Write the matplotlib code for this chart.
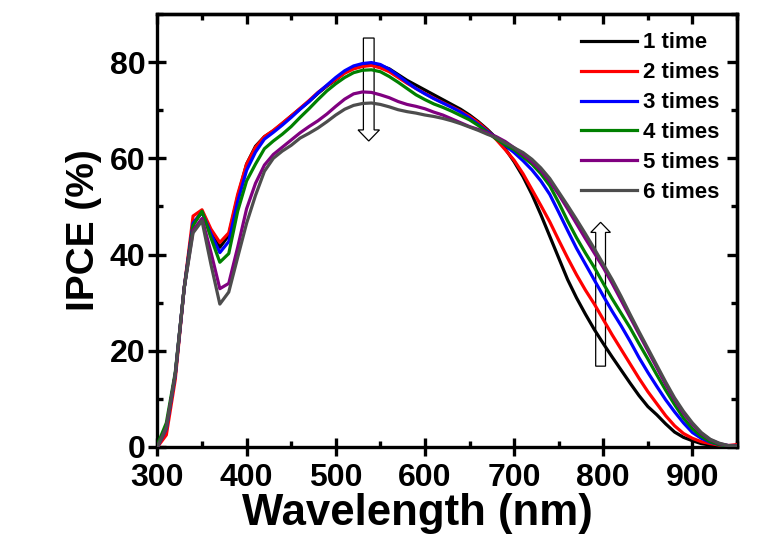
import matplotlib
matplotlib.use("Agg")
import matplotlib.pyplot as plt
from matplotlib.patches import FancyArrow
from matplotlib.ticker import MultipleLocator

plt.rcParams['font.family'] = ['Liberation Sans', 'DejaVu Sans']
plt.rcParams['font.weight'] = 'bold'

# IPCE spectra, 300-950 nm every 10 nm
wavelength = list(range(300, 960, 10))

ipce_1 = [0, 4, 15, 33, 46.5, 48.8, 44.5, 41.5, 44, 52,
          58.8, 62.5, 64.5, 65.7, 67.2, 68.8, 70.3, 71.8, 73.5, 75,
          76.3, 77.8, 78.7, 79.2, 79.5, 79.3, 78.6, 77.4, 76.2, 75.2,
          74.2, 73.2, 72.2, 71.2, 70.2, 69, 67.6, 66, 64.2, 62,
          59.3, 56.2, 52.5, 48.3, 43.8, 39.3, 34.8, 31, 27.6, 24.4,
          21.5, 18.7, 16, 13.3, 10.7, 8.4, 6.7, 4.8, 3.1, 2,
          1.3, 0.7, 0.4, 0.2, 0.1, 0.1]
ipce_2 = [0, 2.5, 14, 33, 48, 49.3, 45.3, 42.5, 44.5, 52.5,
          58.8, 62.3, 64.5, 65.8, 67.3, 68.8, 70.4, 72, 73.7, 75.1,
          76.4, 77.7, 78.6, 79.1, 79.3, 78.8, 78, 76.8, 75.6, 74.5,
          73.5, 72.5, 71.6, 70.7, 69.8, 68.7, 67.4, 65.8, 63.9, 61.8,
          59.6, 56.8, 53.5, 50.2, 46.8, 43, 39.3, 35.8, 32.6, 29.7,
          26.5, 23.3, 20.3, 17.3, 14.3, 11.5, 9, 6.5, 4.4, 2.8,
          1.8, 1.1, 0.7, 0.4, 0.3, 0.5]
ipce_3 = [0, 3.8, 15, 33, 46.5, 48.8, 44.3, 40.4, 42.7, 51,
          57.5, 61.3, 64, 65.4, 66.9, 68.5, 70.2, 71.8, 73.6, 75.2,
          76.8, 78.2, 79.2, 79.7, 79.9, 79.5, 78.5, 77.2, 75.8, 74.5,
          73.4, 72.4, 71.5, 70.6, 69.6, 68.4, 67, 65.6, 64.2, 62.7,
          61.2, 59.5, 57.6, 55.3, 52.5, 48.8, 45, 41.3, 38, 34.7,
          31.4, 28.2, 25.2, 22, 18.6, 15.5, 12.6, 9.8, 7.3, 5,
          3, 1.8, 1, 0.5, 0.3, 0.3]
ipce_4 = [0.5, 5, 15.5, 33, 46, 49, 43.5, 38.4, 40.2, 49,
          55.3, 58.8, 62, 63.6, 65, 66.6, 68.5, 70.3, 72.2, 74,
          75.5, 76.8, 77.8, 78.3, 78.4, 78, 77, 75.8, 74.5, 73.2,
          72.2, 71.3, 70.6, 69.8, 68.9, 68, 66.8, 65.4, 64, 62.8,
          61.8, 60.3, 58.8, 56.8, 54.3, 50.8, 47, 43.5, 40.3, 37.3,
          34, 30.8, 27.8, 24.8, 21.5, 18.3, 15, 11.8, 8.8, 6,
          3.8, 2.2, 1.1, 0.5, 0.2, 0.2]
ipce_5 = [0, 4, 15, 33, 45, 47.5, 40.5, 32.9, 34, 41.5,
          49.5, 54.8, 58.6, 60.8, 62.3, 63.8, 65.3, 66.6, 67.8, 69.2,
          70.8, 72.3, 73.4, 73.8, 73.7, 73.2, 72.6, 71.8, 71.2, 70.8,
          70.3, 69.6, 69, 68.2, 67.4, 66.6, 66, 65.3, 64.5, 63.5,
          62.2, 60.8, 59.3, 57.5, 55.2, 52.5, 49.5, 46.4, 43.3, 40.3,
          37.3, 34, 30.5, 27, 23.5, 20, 16.5, 13, 9.8, 7,
          4.7, 2.8, 1.5, 0.7, 0.3, 0.2]
ipce_6 = [0, 4, 15, 33, 44.5, 47, 38, 29.7, 32.2, 39.4,
          46.5, 52.3, 57.3, 60, 61.5, 62.7, 64.2, 65.2, 66.3, 67.6,
          69, 70.2, 71, 71.4, 71.5, 71.2, 70.7, 70.1, 69.7, 69.4,
          69, 68.7, 68.3, 67.8, 67.2, 66.5, 65.8, 65, 64.3, 63.2,
          62.2, 61.2, 59.8, 58, 55.8, 53, 50.2, 47.3, 44.3, 41.2,
          38, 34.8, 31.3, 27.6, 24, 20.5, 17, 13.5, 10.2, 7.4,
          5, 3, 1.6, 0.8, 0.3, 0.2]

labels = ["1 time", "2 times", "3 times", "4 times", "5 times", "6 times"]
colors = ["#000000", "#ff0000", "#0000ff", "#008000", "#800080", "#4d4d4d"]
series = [ipce_1, ipce_2, ipce_3, ipce_4, ipce_5, ipce_6]

fig = plt.figure(figsize=(7.72, 5.42), dpi=100)
ax = fig.add_axes([0.2039, 0.1753, 0.7508, 0.7989])

for vals, lab, col in zip(series, labels, colors):
    ax.plot(wavelength, vals, color=col, lw=2.3, label=lab, zorder=3)

# hollow arrows showing the trend
ax.add_patch(FancyArrow(537, 85, 0, -21.4, width=12, head_width=24, head_length=2.3,
                        length_includes_head=True, fc='white', ec='black', lw=0.9, zorder=2))
ax.add_patch(FancyArrow(797, 16.8, 0, 29.9, width=11, head_width=22, head_length=2.1,
                        length_includes_head=True, fc='white', ec='black', lw=0.9, zorder=2))

ax.set_xlim(300, 950)
ax.set_ylim(0, 90)
ax.set_xticks(range(300, 901, 100))
ax.set_yticks(range(0, 81, 20))
ax.xaxis.set_minor_locator(MultipleLocator(50))
ax.yaxis.set_minor_locator(MultipleLocator(10))

for s in ax.spines.values():
    s.set_linewidth(2.4)

ax.tick_params(which='major', direction='inout', length=13, width=2.4, labelsize=23, pad=2)
ax.tick_params(axis='x', which='major', pad=5)
ax.tick_params(which='minor', direction='in', length=4, width=2.4)

# inward ticks on top and right
top = ax.secondary_xaxis('top')
top.set_xticks(range(300, 901, 100))
top.xaxis.set_minor_locator(MultipleLocator(50))
top.tick_params(which='major', direction='in', length=7.5, width=2.4, labeltop=False)
top.tick_params(which='minor', direction='in', length=4, width=2.4)
right = ax.secondary_yaxis('right')
right.set_yticks(range(0, 81, 20))
right.yaxis.set_minor_locator(MultipleLocator(10))
right.tick_params(which='major', direction='in', length=7.5, width=2.4, labelright=False)
right.tick_params(which='minor', direction='in', length=4, width=2.4)
for sec in (top, right):
    for s in sec.spines.values():
        s.set_linewidth(2.4)

ax.set_xlabel("Wavelength (nm)", fontsize=31.5, fontweight='bold', x=0.448, labelpad=0)
ax.set_ylabel("IPCE (%)", fontsize=28, fontweight='bold', labelpad=6)

ax.legend(loc='upper left', bbox_to_anchor=(581 / 772, 1 - 32.5 / 542),
          bbox_transform=fig.transFigure, frameon=False, fontsize=16,
          handlelength=2.5, handletextpad=0.27, labelspacing=0.40,
          borderpad=0, borderaxespad=0)

fig.savefig("out.png", dpi=100)
